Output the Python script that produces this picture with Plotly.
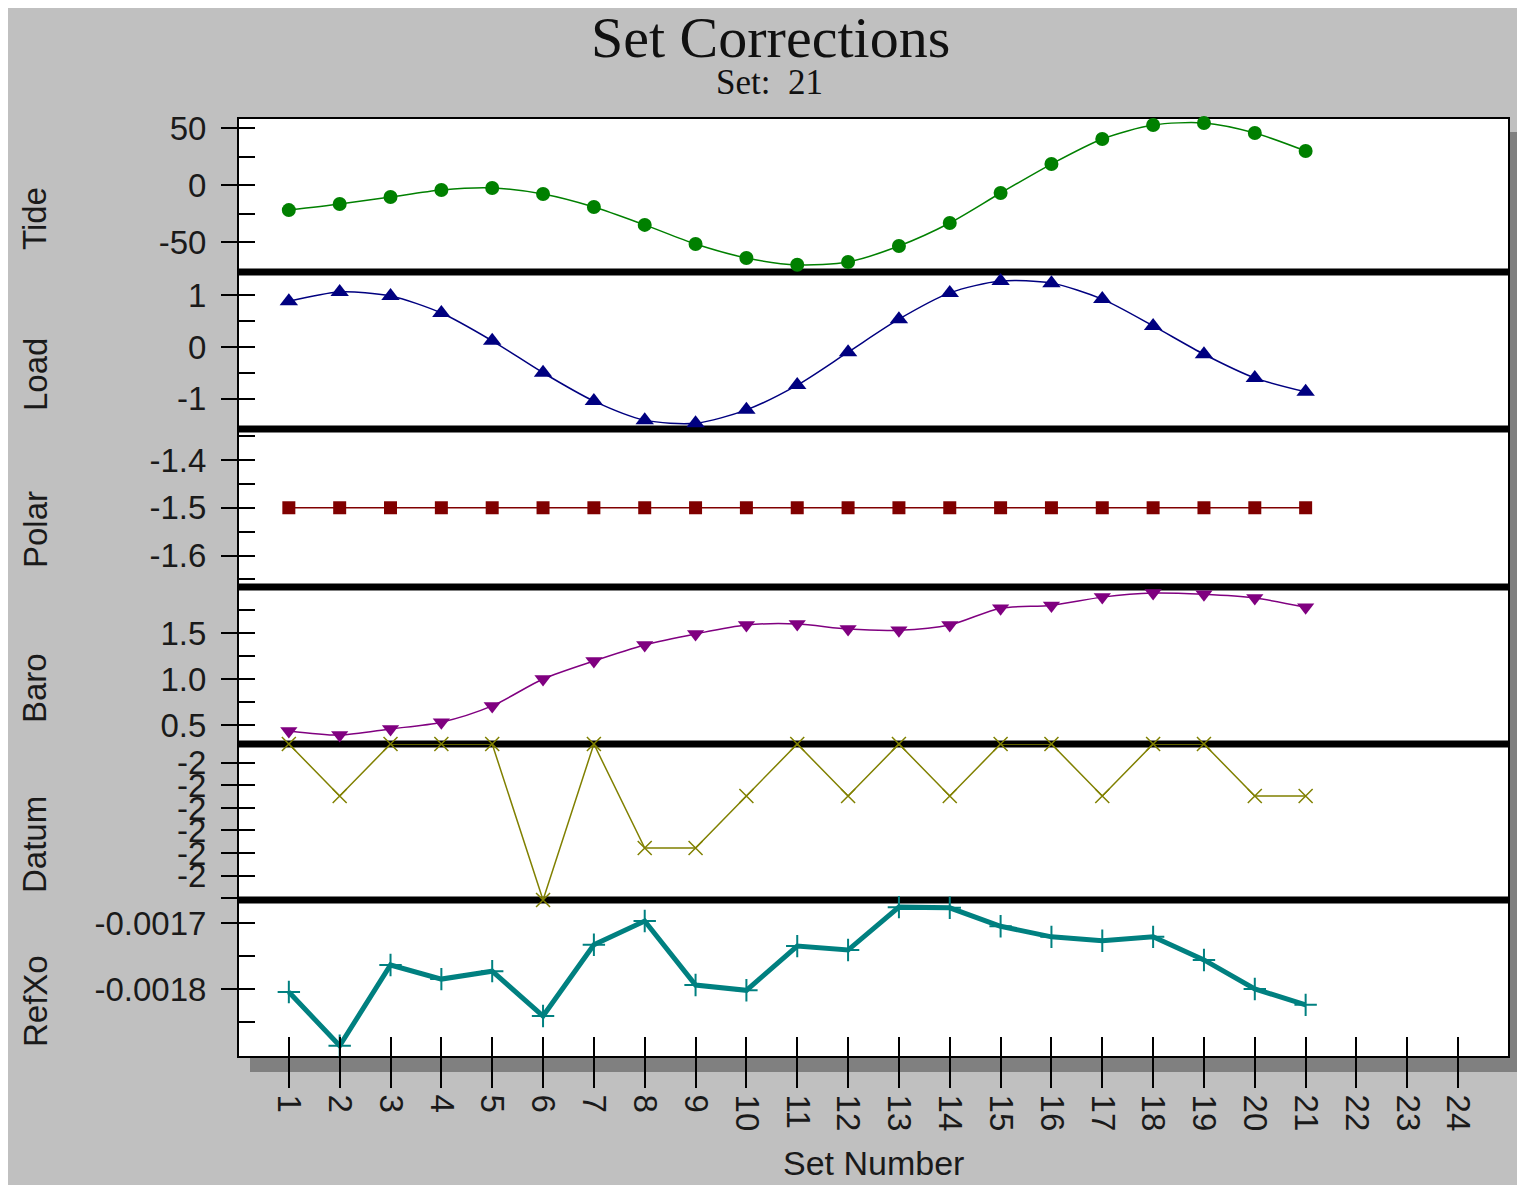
import plotly.graph_objects as go

# ---------------- data ----------------
sets = list(range(1, 22))
tide = [-22, -16.7, -10.5, -4.4, -2.6, -7.9, -19.3, -35, -51.8, -64, -70,
        -67.5, -53.5, -33.3, -7, 18.4, 40.4, 52.6, 54.4, 45.6, 29.8]
load = [0.89, 1.07, 0.99, 0.66, 0.12, -0.50, -1.05, -1.42, -1.48, -1.22, -0.74,
        -0.10, 0.54, 1.05, 1.28, 1.24, 0.93, 0.41, -0.14, -0.60, -0.87]
polar = [-1.5, -1.5, -1.5, -1.5, -1.5, -1.5, -1.5, -1.5, -1.5, -1.5, -1.5,
         -1.5, -1.5, -1.5, -1.5, -1.5, -1.5, -1.5, -1.5, -1.5, -1.5]
baro = [0.435, 0.39, 0.457, 0.53, 0.707, 1.0, 1.196, 1.37, 1.49, 1.587, 1.598,
        1.543, 1.53, 1.587, 1.77, 1.80, 1.89, 1.935, 1.92, 1.88, 1.78]
# Datum is -2 everywhere up to floating-point noise; stored as steps below -2
datum_steps = [0, -1, 0, 0, 0, -3, 0, -2, -2, -1, 0,
               -1, 0, -1, 0, 0, -1, 0, 0, -1, -1]
refxo = [-0.0018045, -0.001886, -0.0017636, -0.001785, -0.001773, -0.001841,
         -0.001733, -0.001697, -0.001794, -0.001802, -0.001735, -0.001741,
         -0.001676, -0.001677, -0.001705, -0.001721, -0.001727, -0.001721,
         -0.001756, -0.0018, -0.001824]

panel_names = ["Tide", "Load", "Polar", "Baro", "Datum", "RefXo"]
x_ticks = list(range(1, 25))
x_ticktext = [str(v) for v in x_ticks]

tide_ticks, tide_text, tide_minor = [50, 0, -50], ["50", "0", "-50"], [25, -25, -75]
load_ticks, load_text, load_minor = [1, 0, -1], ["1", "0", "-1"], [0.5, -0.5]
polar_ticks, polar_text, polar_minor = [-1.4, -1.5, -1.6], ["-1.4", "-1.5", "-1.6"], [-1.35, -1.45, -1.55, -1.65]
baro_ticks, baro_text, baro_minor = [1.5, 1.0, 0.5], ["1.5", "1.0", "0.5"], [1.75, 1.25, 0.75]
datum_ticks = [-0.364, -0.797, -1.23, -1.663, -2.096, -2.53, -2.963]
datum_text = ["-2", "-2", "-2", "-2", "-2", "-2", ""]
datum_minor = []
refxo_ticks, refxo_text, refxo_minor = [-0.0017, -0.0018], ["-0.0017", "-0.0018"], [-0.00175, -0.00185]

# ---------------- layout geometry (page pixels) ----------------
W, H = 1517, 1185
def px(x):
    return x / W
def py(y):
    return 1 - y / H

left, right = 238, 1509
bounds = [118, 272, 429, 587, 744, 900, 1057]
ranges = [[-76.3, 58.8], [-1.592, 1.456], [-1.666, -1.335], [0.293, 2.0],
          [-3.0, 0.0], [-0.001903, -0.0016652]]
tickinfo = [(tide_ticks, tide_text, tide_minor), (load_ticks, load_text, load_minor),
            (polar_ticks, polar_text, polar_minor), (baro_ticks, baro_text, baro_minor),
            (datum_ticks, datum_text, datum_minor), (refxo_ticks, refxo_text, refxo_minor)]

series = [
    dict(y=tide, color="#008000", symbol="circle", size=14, width=1.5, shape="spline"),
    dict(y=load, color="#000080", symbol="triangle-up", size=16, width=1.5, shape="spline"),
    dict(y=polar, color="#800000", symbol="square", size=13, width=1.5, shape="linear"),
    dict(y=baro, color="#800080", symbol="triangle-down", size=15, width=1.5, shape="spline"),
    dict(y=datum_steps, color="#808000", symbol="x-thin-open", size=14, width=1.5, shape="linear"),
    dict(y=refxo, color="#008080", symbol="cross-thin-open", size=16, width=5, shape="linear"),
]

TICKFONT = dict(family="Liberation Sans, Arial", size=33, color="#1a1a1a")

fig = go.Figure()
layout = {}
for i, s in enumerate(series):
    n = i + 1
    yname = "y" if n == 1 else f"y{n}"
    if s["symbol"].endswith("open"):
        marker = dict(symbol=s["symbol"], size=s["size"], color=s["color"],
                      line=dict(color=s["color"], width=2 if n == 6 else 1.5))
    else:
        marker = dict(symbol=s["symbol"], size=s["size"], color=s["color"],
                      line=dict(width=0))
    fig.add_trace(go.Scatter(
        x=sets, y=s["y"], xaxis="x", yaxis=yname, mode="lines+markers",
        line=dict(color=s["color"], width=s["width"], shape=s["shape"], smoothing=0.8),
        marker=marker, cliponaxis=False, showlegend=False, hoverinfo="x+y"))

    ticks, text, minor = tickinfo[i]
    dom = [py(bounds[i + 1]), py(bounds[i])]
    layout[f"yaxis{'' if n == 1 else n}"] = dict(
        domain=dom, range=ranges[i], anchor="x", ticks="outside", ticklen=16,
        tickwidth=2, tickcolor="black", tickvals=ticks, ticktext=text,
        tickfont=TICKFONT, ticklabelstandoff=8, showgrid=False, zeroline=False,
        showline=False, fixedrange=True, automargin=False)
    ov = n + 6
    layout[f"yaxis{ov}"] = dict(
        overlaying=yname, anchor="x", side="left", range=ranges[i],
        ticks="inside", ticklen=17, tickwidth=2, tickcolor="black",
        tickvals=ticks + minor, showticklabels=False, showgrid=False,
        zeroline=False, showline=False, fixedrange=True, automargin=False)
    fig.add_trace(go.Scatter(x=[None], y=[None], xaxis="x", yaxis=f"y{ov}",
                             showlegend=False, hoverinfo="skip"))

layout["xaxis"] = dict(domain=[px(left), px(right)], range=[0, 25], anchor="y6",
                       ticks="outside", ticklen=30, tickwidth=2, tickcolor="black",
                       tickvals=x_ticks, ticktext=x_ticktext, tickangle=90,
                       tickfont=TICKFONT, showgrid=False, zeroline=False,
                       showline=False, fixedrange=True, automargin=False)
layout["xaxis2"] = dict(overlaying="x", anchor="y6", range=[0, 25], ticks="inside",
                        ticklen=20, tickwidth=2, tickcolor="black", tickvals=x_ticks,
                        showticklabels=False, showgrid=False, zeroline=False,
                        showline=False, fixedrange=True, automargin=False)
fig.add_trace(go.Scatter(x=[None], y=[None], xaxis="x2", yaxis="y6",
                         showlegend=False, hoverinfo="skip"))

shapes = []
# grey window background (thin white strip at top/left as in the screenshot)
shapes.append(dict(type="rect", xref="paper", yref="paper", layer="below",
                   x0=px(8), x1=px(W + 5), y0=py(H + 5), y1=py(8),
                   fillcolor="#C0C0C0", line=dict(width=0)))
# drop shadow
shapes.append(dict(type="rect", xref="paper", yref="paper", layer="below",
                   x0=px(left + 12), x1=px(right + 14), y0=py(bounds[-1] + 15),
                   y1=py(bounds[0] + 14), fillcolor="#808080", line=dict(width=0)))
# plot area
shapes.append(dict(type="rect", xref="paper", yref="paper", layer="below",
                   x0=px(left), x1=px(right), y0=py(bounds[-1]), y1=py(bounds[0]),
                   fillcolor="white", line=dict(width=0)))
# separators
for b in bounds[1:-1]:
    shapes.append(dict(type="line", xref="paper", yref="paper", layer="below",
                       x0=px(left), x1=px(right), y0=py(b), y1=py(b),
                       line=dict(color="black", width=7)))
# border
shapes.append(dict(type="rect", xref="paper", yref="paper", layer="below",
                   x0=px(left), x1=px(right), y0=py(bounds[-1]), y1=py(bounds[0]),
                   fillcolor="rgba(0,0,0,0)", line=dict(color="black", width=2)))

annotations = [
    dict(text="Set Corrections", x=px(770), y=py(37), xref="paper", yref="paper",
         showarrow=False, xanchor="center", yanchor="middle",
         font=dict(family="Liberation Serif, Times New Roman", size=58, color="#111")),
    dict(text="Set:  21", x=px(769), y=py(82), xref="paper", yref="paper",
         showarrow=False, xanchor="center", yanchor="middle",
         font=dict(family="Liberation Serif, Times New Roman", size=35, color="#111")),
    dict(text="Set Number", x=px(873), y=py(1163), xref="paper", yref="paper",
         showarrow=False, xanchor="center", yanchor="middle",
         font=dict(family="Liberation Sans, Arial", size=34, color="#1a1a1a")),
]
label_y = [219, 375, 530, 688, 845, 1001]
for name, ly in zip(panel_names, label_y):
    annotations.append(dict(text=name, x=px(35), y=py(ly), xref="paper", yref="paper",
                            showarrow=False, textangle=-90, xanchor="center",
                            yanchor="middle",
                            font=dict(family="Liberation Sans, Arial", size=33,
                                      color="#1a1a1a")))

fig.update_layout(
    width=W, height=H, autosize=False,
    margin=dict(l=0, r=0, t=0, b=0, pad=0, autoexpand=False),
    paper_bgcolor="white", plot_bgcolor="rgba(0,0,0,0)",
    shapes=shapes, annotations=annotations, showlegend=False,
    **layout)

fig.write_html("out.html", config={"displayModeBar": False},
               post_script="document.body.style.margin='0';"
                           "document.body.style.overflow='hidden';")
